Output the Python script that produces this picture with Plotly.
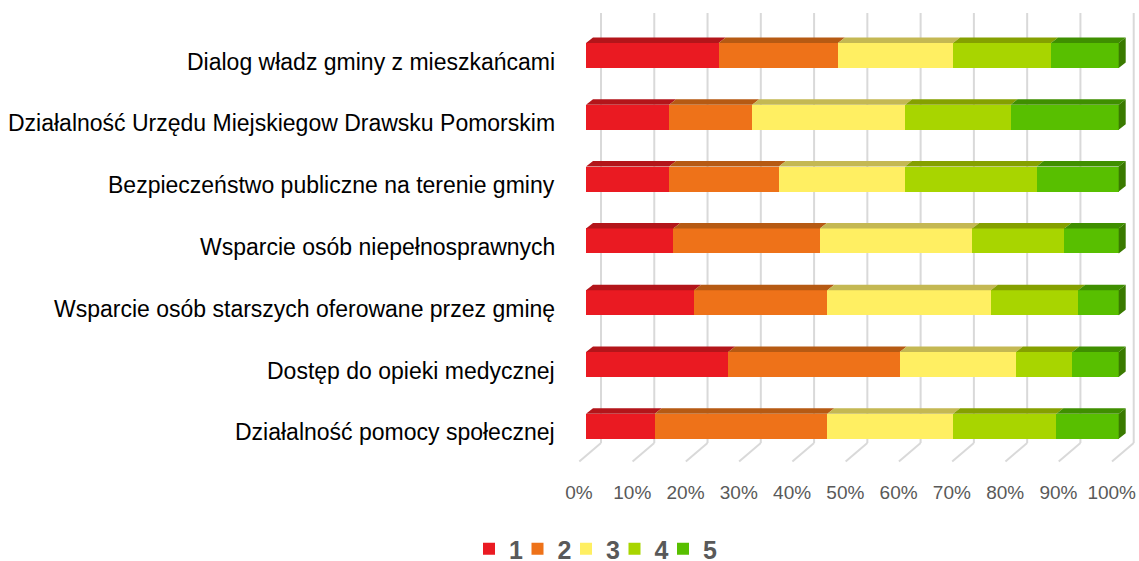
import plotly.graph_objects as go

# Survey ratings (share of answers 1-5, in %)
categories = [
    "Dialog władz gminy z mieszkańcami",
    "Działalność Urzędu Miejskiegow Drawsku Pomorskim",
    "Bezpieczeństwo publiczne na terenie gminy",
    "Wsparcie osób niepełnosprawnych",
    "Wsparcie osób starszych oferowane przez gminę",
    "Dostęp do opieki medycznej",
    "Działalność pomocy społecznej",
]
series_names = ["1", "2", "3", "4", "5"]
rating_1 = [24.9, 15.6, 15.6, 16.4, 20.3, 26.7, 12.9]
rating_2 = [22.4, 15.6, 20.6, 27.5, 25.0, 32.2, 32.4]
rating_3 = [21.6, 28.7, 23.7, 28.6, 30.7, 21.8, 23.6]
rating_4 = [18.4, 19.8, 24.7, 17.3, 16.4, 10.6, 19.4]
rating_5 = [12.7, 20.3, 15.4, 10.2, 7.6, 8.7, 11.7]
series_values = [rating_1, rating_2, rating_3, rating_4, rating_5]
tick_values = [0, 10, 20, 30, 40, 50, 60, 70, 80, 90, 100]
tick_labels = [f"{v}%" for v in tick_values]

front_colors = ["#EA1A22", "#EE7219", "#FFEF62", "#A8D500", "#58BF00"]
top_colors = ["#B3151A", "#B65A13", "#C4B853", "#85A000", "#3F8F00"]
side_color = "#3A7A00"

# Page geometry (pixels)
W, H = 1139, 561
PLOT_L, PLOT_T, PLOT_B = 560, 0, 470
X0_PX = 586.0          # front edge of the 0 % position
PX_PER_PCT = 5.327     # pixels per percent
Y0_PX = 55.5           # centre of the first bar
PX_PER_CAT = 61.8      # distance between bar centres
BAR_H_PX = 25.0
DEPTH_DX, DEPTH_DY = 7.0, 5.5        # bar depth
WALL_DX = 15.0                        # back wall offset
FLOOR_TOP, FLOOR_BOT = 443.0, 461.5   # floor back / front edges
FLOOR_DX = 21.7
GRID_TOP = 13.0
LEGEND_FIRST_PX = 469.0               # left edge of the first legend entry
LEGEND_STEP_PX = 48.5
LEGEND_Y_PX = 549.0


def px_x(dpx):
    return dpx / PX_PER_PCT


def y_at(pix):
    return (pix - Y0_PX) / PX_PER_CAT


x_range = [(PLOT_L - X0_PX) / PX_PER_PCT, (W - X0_PX) / PX_PER_PCT]
y_range = [y_at(PLOT_B), y_at(PLOT_T)]

idx = list(range(len(categories)))
bar_w = BAR_H_PX / PX_PER_CAT
ddx = px_x(DEPTH_DX)
ddy = DEPTH_DY / PX_PER_CAT

fig = go.Figure()

# Front faces of the stacked bars; each series gets its own one-item legend
legend_ids = ["legend"] + [f"legend{k + 1}" for k in range(1, len(series_names))]
for k, (name, vals, col) in enumerate(zip(series_names, series_values, front_colors)):
    fig.add_trace(go.Bar(
        y=idx, x=vals, orientation="h", name=name, width=bar_w,
        marker=dict(color=col, line=dict(width=0)),
        hoverinfo="x+name", legend=legend_ids[k],
    ))

# Top faces (parallelograms following each segment)
cum = [0.0] * len(categories)
for s, (vals, col) in enumerate(zip(series_values, top_colors)):
    xs, ys = [], []
    for i, v in enumerate(vals):
        a, b = cum[i], cum[i] + v
        yt = i - bar_w / 2
        xs += [a, b, b + ddx, a + ddx, a, None]
        ys += [yt, yt, yt - ddy, yt - ddy, yt, None]
        cum[i] = b
    fig.add_trace(go.Scatter(
        x=xs, y=ys, mode="lines", fill="toself", fillcolor=col,
        line=dict(width=0, color=col), showlegend=False, hoverinfo="skip",
    ))

# Right-hand side faces of the last segment
xs, ys = [], []
for i, total in enumerate(cum):
    yt, yb = i - bar_w / 2, i + bar_w / 2
    xs += [total, total + ddx, total + ddx, total, total, None]
    ys += [yt, yt - ddy, yb - ddy, yb, yt, None]
fig.add_trace(go.Scatter(
    x=xs, y=ys, mode="lines", fill="toself", fillcolor=side_color,
    line=dict(width=0, color=side_color), showlegend=False, hoverinfo="skip",
))

# Back-wall and floor gridlines
shapes = []
grid_col = "#D9D9D9"
for v in tick_values:
    xb = v + px_x(WALL_DX)
    shapes.append(dict(type="line", xref="x", yref="y", layer="below",
                       x0=xb, x1=xb, y0=y_at(GRID_TOP), y1=y_at(FLOOR_TOP),
                       line=dict(color=grid_col, width=2)))
    shapes.append(dict(type="line", xref="x", yref="y", layer="below",
                       x0=xb, x1=xb - px_x(FLOOR_DX),
                       y0=y_at(FLOOR_TOP), y1=y_at(FLOOR_BOT),
                       line=dict(color=grid_col, width=2)))

# Category labels
annotations = []
for i, c in enumerate(categories):
    annotations.append(dict(
        text=c, xref="paper", x=0, xanchor="right", xshift=-3,
        yref="y", y=i, yanchor="middle", yshift=-6, showarrow=False,
        font=dict(family="Liberation Sans, Arial, sans-serif", size=23, color="#000000"),
    ))

legend_font = dict(family="Liberation Sans, Arial, sans-serif", size=25,
                   color="#595959", weight="bold")
legends = {}
for k, lid in enumerate(legend_ids):
    legends[lid] = dict(
        orientation="h", xref="container", yref="container",
        x=(LEGEND_FIRST_PX + k * LEGEND_STEP_PX) / W, xanchor="left",
        y=1 - LEGEND_Y_PX / H, yanchor="middle",
        font=legend_font, bgcolor="rgba(0,0,0,0)", borderwidth=0,
    )

fig.update_layout(
    width=W, height=H,
    margin=dict(l=PLOT_L, r=0, t=PLOT_T, b=H - PLOT_B, pad=0),
    paper_bgcolor="white", plot_bgcolor="white",
    barmode="stack", bargap=0,
    shapes=shapes, annotations=annotations,
    xaxis=dict(
        range=x_range, showgrid=False, zeroline=False, showline=False,
        tickmode="array", tickvals=tick_values, ticktext=tick_labels,
        ticks="", ticklabelshift=-7, ticklabelstandoff=9,
        tickfont=dict(family="Liberation Sans, Arial, sans-serif", size=19, color="#595959"),
        fixedrange=True,
    ),
    yaxis=dict(
        range=y_range, showgrid=False, zeroline=False, showline=False,
        showticklabels=False, ticks="", fixedrange=True,
    ),
    showlegend=True,
    **legends,
)

fig.write_html("out.html")
